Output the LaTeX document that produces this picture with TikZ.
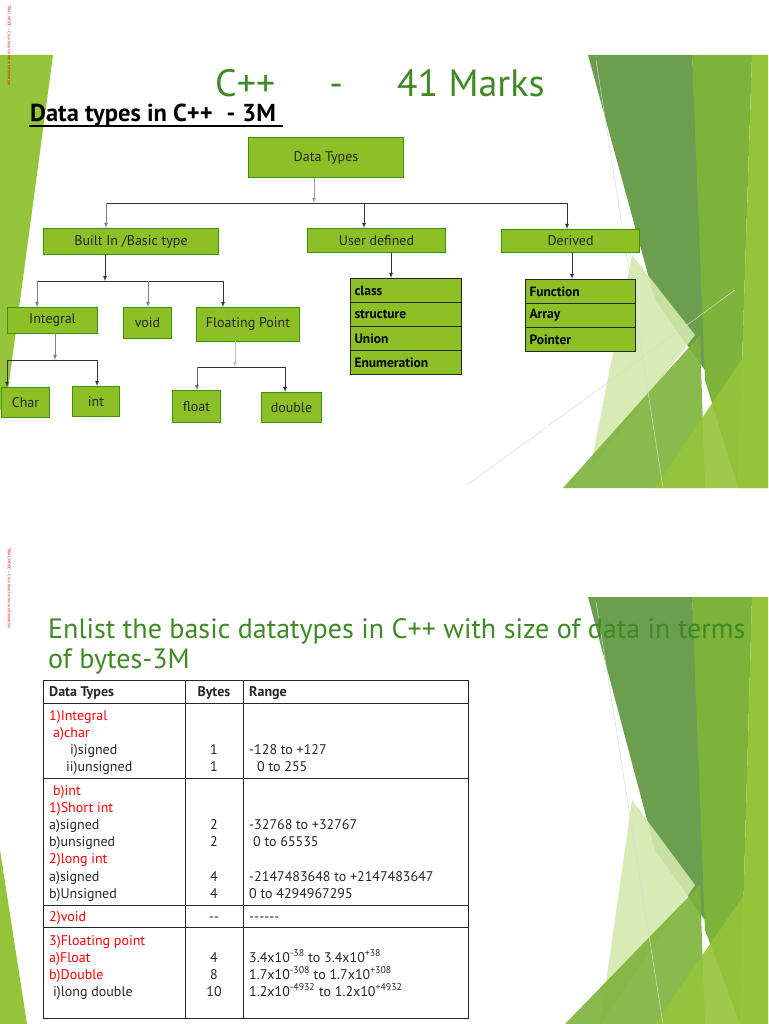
\documentclass[tikz,border=0pt]{standalone}
\usepackage{fontspec}
\setmainfont{PT Sans}
\begin{document}
\begin{tikzpicture}[x=1pt,y=-1pt,>=latex,
 gbox/.style={draw=green!40!black!70!lime,line width=1pt,fill=boxg,inner sep=0pt,font=\fontsize{14}{16}\selectfont,text=black!85},
 cell/.style={draw=black!85,line width=1pt,fill=boxg,minimum width=111pt,minimum height=24pt,anchor=north west,inner sep=0pt,font=\bfseries\fontsize{13.5}{15}\selectfont,text=black},
 conn/.style={draw=black!80,line width=0.8pt},
 arr/.style={conn,->},
 tt/.style={anchor=base west,inner sep=0pt,font=\fontsize{14}{15}\selectfont,text=black!85},
 rt/.style={tt,text=red},
 tb/.style={anchor=base,inner sep=0pt,font=\fontsize{14}{15}\selectfont,text=black!85}]
\definecolor{boxg}{HTML}{8DC026}
\definecolor{titleg}{HTML}{3F8A24}
\definecolor{dg}{HTML}{6B9E4E}
\definecolor{mg}{HTML}{7DB33A}
\definecolor{bg}{HTML}{94C43A}
\definecolor{pg}{HTML}{D4E8AE}
\useasboundingbox (0,0) rectangle (768,1024);
\fill[white] (0,0) rectangle (768,1024);
% ---------- slide 1 decoration
\fill[bg] (0,55) -- (53,55) -- (6,405) -- (0,410) -- cycle;
\fill[dg] (588,55) -- (692,55) -- (712,380) -- (655,300) -- cycle;
\fill[mg] (692,55) -- (752,55) -- (738,488) -- (705,380) -- cycle;
\fill[bg] (752,55) -- (768,55) -- (768,488) -- (738,488) -- cycle;
\fill[pg,opacity=0.9] (632,255) -- (695,335) -- (590,470) -- cycle;
\fill[mg,opacity=0.9] (563,488) -- (700,335) -- (705,488) -- cycle;
\fill[bg,opacity=0.9] (655,488) -- (768,320) -- (768,488) -- cycle;
\draw[black!15,line width=0.5pt] (467,485) -- (735,290);
\draw[black!15,line width=0.5pt] (596,60) -- (663,488);
\node[rotate=-90,anchor=north west,inner sep=0pt,text=red,font=\fontsize{4}{5}\selectfont] (tm1) at (11,5) {TRIAL MODE -- Click here for more information};
% ---------- slide 1 title
\node[anchor=base west,inner sep=0pt,text depth=0pt,text=titleg,font=\fontsize{38}{44}\selectfont] (t1) at (215,97) {C++\hspace{54pt}-\hspace{54pt}41 Marks};
\node[anchor=base west,inner sep=0pt,font=\bfseries\fontsize{24.5}{28}\selectfont] (t2) at (30,122) {Data types in C++\hspace{14pt}-\hspace{7pt}3M};
\draw[line width=1.2pt] (29,126) -- (283,126);
% ---------- tree
\node[gbox,minimum width=155pt,minimum height=40pt,anchor=north west] (dt) at (248,137) {Data Types};
\node[gbox,minimum width=175pt,minimum height=26pt,anchor=north west] (bi) at (43,228) {Built In /Basic type};
\node[gbox,minimum width=138pt,minimum height=24pt,anchor=north west] (ud) at (307,228) {User defined};
\node[gbox,minimum width=138pt,minimum height=23pt,anchor=north west] (dv) at (501,229) {Derived};
\node[gbox,minimum width=90pt,minimum height=26pt,anchor=north west] (ig) at (7,307) {Integral};
\node[gbox,minimum width=48pt,minimum height=31pt,anchor=north west] (vd) at (123,307) {void};
\node[gbox,minimum width=103pt,minimum height=34pt,anchor=north west] (fp) at (196,307) {Floating Point};
\node[gbox,minimum width=48pt,minimum height=30pt,anchor=north west] (ch) at (1,387) {Char};
\node[gbox,minimum width=47pt,minimum height=30pt,anchor=north west] (in) at (72,386) {int};
\node[gbox,minimum width=48pt,minimum height=32pt,anchor=north west] (fl) at (172,390) {float};
\node[gbox,minimum width=60pt,minimum height=30pt,anchor=north west] (db) at (261,392) {double};
\foreach \t [count=\i from 0] in {class,structure,Union,Enumeration}
  \node[cell,text width=103pt,align=left] (u\i) at (350,278+24*\i) {\t};
\foreach \t [count=\i from 0] in {Function,Array,Pointer}
  \node[cell,minimum width=110pt,text width=102pt,align=left] (d\i) at (525,279+24*\i) {\t};
% connectors
\coordinate (j1) at (314,203);
\coordinate (j1l) at (106,203);
\coordinate (j1r) at (567,203);
\draw[arr,black!40] (dt.south -| j1) -- (j1);
\draw[conn] (j1l) -- (j1r);
\draw[arr,black!50] (j1l) -- (j1l |- bi.north);
\draw[arr] (364,203) -- (364,228);
\draw[arr] (j1r) -- (j1r |- dv.north);
\coordinate (j2) at (105,281);
\draw[arr] (105,254) -- (j2);
\draw[conn] (37,281) -- (223,281);
\draw[arr,black!50] (37,281) -- (37,307);
\draw[arr,black!50] (148,281) -- (148,307);
\draw[arr] (223,281) -- (223,307);
\coordinate (j3) at (55,360);
\draw[arr,black!50] (55,333) -- (j3);
\draw[conn] (7,360) -- (97,360);
\draw[arr] (7,360) -- (7,387);
\draw[arr] (97,360) -- (97,386);
\coordinate (j4) at (235,367);
\draw[arr,black!25] (235,341) -- (j4);
\draw[conn] (197,367) -- (285,367);
\draw[arr,black!60] (197,367) -- (197,390);
\draw[arr] (285,367) -- (285,392);
\draw[arr] (391,252) -- (u0.north -| 391,0);
\draw[arr] (572,252) -- (d0.north -| 572,0);
% ---------- slide 2 decoration
\fill[bg] (0,850) -- (27,1024) -- (0,1024) -- cycle;
\fill[dg] (588,597) -- (692,597) -- (712,930) -- (655,850) -- cycle;
\fill[mg] (692,597) -- (752,597) -- (740,1024) -- (705,930) -- cycle;
\fill[bg] (752,597) -- (768,597) -- (768,1024) -- (740,1024) -- cycle;
\fill[pg,opacity=0.9] (632,800) -- (695,885) -- (600,1024) -- cycle;
\fill[mg,opacity=0.9] (565,1024) -- (700,885) -- (705,1024) -- cycle;
\fill[bg,opacity=0.9] (655,1024) -- (768,860) -- (768,1024) -- cycle;
\draw[black!15,line width=0.5pt] (596,602) -- (663,1024);
\node[rotate=-90,anchor=north west,inner sep=0pt,text=red,font=\fontsize{4}{5}\selectfont] (tm2) at (11,548) {TRIAL MODE -- Click here for more information};
\node[anchor=base west,inner sep=0pt,text=titleg,font=\fontsize{28}{30}\selectfont] (t3) at (48,638) {Enlist the basic datatypes in C++ with size of data in terms};
\node[anchor=base west,inner sep=0pt,text=titleg,font=\fontsize{28}{30}\selectfont] (t4) at (48,668) {of bytes-3M};
% table
\node[draw=black!85,line width=1pt,minimum width=425pt,minimum height=338pt,anchor=north west,inner sep=0pt] (tab) at (43,680) {};
\draw[black!85,line width=1pt] (185,680) -- (185,1018) (243,680) -- (243,1018);
\foreach \yy in {703,778,905,927} \draw[black!85,line width=1pt] (43,\yy) -- (468,\yy);
\node[tt,font=\bfseries\fontsize{14}{15}\selectfont] (h1) at (49,696) {Data Types};
\node[tb,font=\bfseries\fontsize{14}{15}\selectfont] (h2) at (214,696) {Bytes};
\node[tt,font=\bfseries\fontsize{14}{15}\selectfont] (h3) at (249,696) {Range};
\node[rt] at (49,720) {1)Integral};
\node[rt] at (53,737) {a)char};
\node[tt] at (70,754) {i)signed};
\node[tt] at (66,771) {ii)unsigned};
\node[tb] at (214,754) {1};
\node[tb] at (214,771) {1};
\node[tt] at (249,754) {-128 to +127};
\node[tt] at (257,771) {0 to 255};
\node[rt] at (53,795) {b)int};
\node[rt] at (49,812) {1)Short int};
\node[tt] at (49,829) {a)signed};
\node[tt] at (49,846) {b)unsigned};
\node[rt] at (49,863) {2)long int};
\node[tt] at (49,881) {a)signed};
\node[tt] at (49,898) {b)Unsigned};
\node[tb] at (214,829) {2};
\node[tb] at (214,846) {2};
\node[tb] at (214,881) {4};
\node[tb] at (214,898) {4};
\node[tt] at (249,829) {-32768 to +32767};
\node[tt] at (253,846) {0 to 65535};
\node[tt] at (249,881) {-2147483648 to +2147483647};
\node[tt] at (249,898) {0 to 4294967295};
\node[rt] at (49,921) {2)void};
\node[tb] at (214,921) {{-}{-}};
\node[tt] at (249,921) {{-}{-}{-}{-}{-}{-}};
\node[rt] at (49,945) {3)Floating point};
\node[rt] at (49,962) {a)Float};
\node[rt] at (49,979) {b)Double};
\node[tt] at (53,996) {i)long double};
\node[tb] at (214,962) {4};
\node[tb] at (214,979) {8};
\node[tb] at (214,996) {10};
\node[tt] at (249,962) {3.4x10\textsuperscript{-38} to 3.4x10\textsuperscript{+38}};
\node[tt] at (249,979) {1.7x10\textsuperscript{-308} to 1.7x10\textsuperscript{+308}};
\node[tt] at (249,996) {1.2x10\textsuperscript{-4932} to 1.2x10\textsuperscript{+4932}};
\end{tikzpicture}
\end{document}
